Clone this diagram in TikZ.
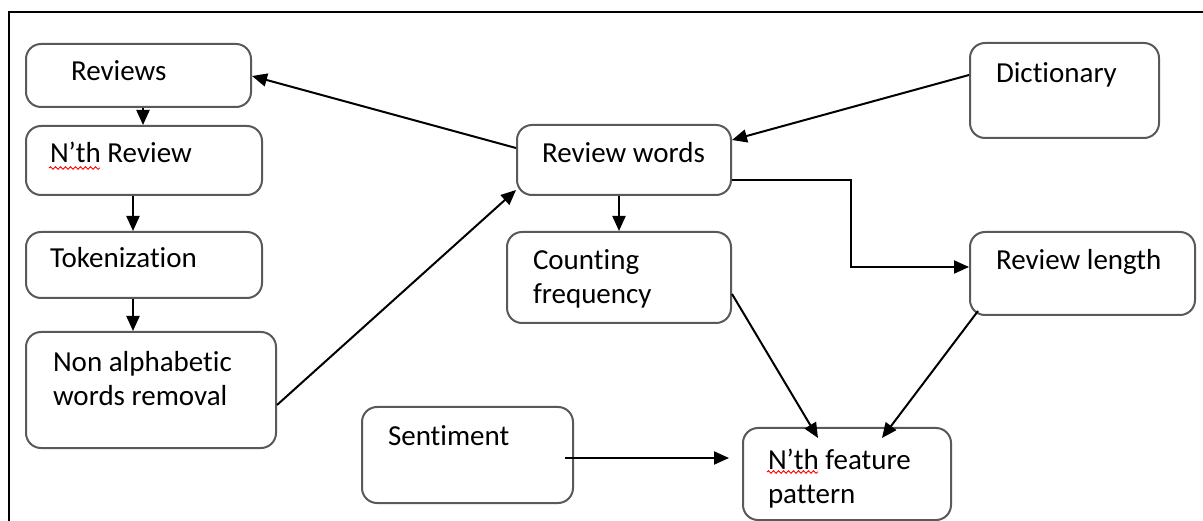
\documentclass[tikz,border=0pt]{standalone}
\usepackage{fontspec}
\setmainfont[Ligatures=NoCommon]{Carlito}
\usetikzlibrary{arrows.meta,calc,decorations.pathmorphing}

\tikzset{every picture/.style={line width=2pt}}
\tikzset{
  box/.style={draw=black!65, rounded corners=15pt, inner sep=0pt},
  txt/.style={anchor=base west, inner sep=0pt, align=left, font=\fontsize{29}{34}\selectfont},
  arr/.style={draw=black, -{Triangle[length=15pt,width=13pt]}},
  squiggle/.style={draw=red, line width=0.9pt, decorate, decoration={snake, amplitude=1.3pt, segment length=5pt}}
}

\begin{document}
\begin{tikzpicture}[x=1pt,y=1pt,yscale=-1,xscale=1]
		\useasboundingbox (0,0) rectangle (1203,521);
		%Frame
		\draw (9,521) -- (9,12) -- (1203,12);

		%Shape: Rounded boxes
		\node [box, minimum width=225, minimum height=63] (rev) at (138.5,75.5) {};
		\node [box, minimum width=236, minimum height=69] (nth) at (144,160.5) {};
		\node [box, minimum width=236, minimum height=66] (tok) at (144,265) {};
		\node [box, minimum width=250, minimum height=116] (non) at (151,390) {};
		\node [box, minimum width=214, minimum height=70] (rw) at (624,160) {};
		\node [box, minimum width=224, minimum height=91] (cf) at (619,277.5) {};
		\node [box, minimum width=189, minimum height=95] (dict) at (1064.5,90.5) {};
		\node [box, minimum width=225, minimum height=83] (rl) at (1082.5,273.5) {};
		\node [box, minimum width=211, minimum height=96] (sent) at (467.5,455) {};
		\node [box, minimum width=208, minimum height=92] (nfp) at (847,474) {};

		% Text Node
		\node [txt] (revtxt) at (70,81) {Reviews};
		\node [txt] (nthtxt) at (49,163) {N’th Review};
		\node [txt] (toktxt) at (49,268) {Tokenization};
		\node [txt] (nontxt) at (52,406) {Non alphabetic\\words removal};
		\node [txt] (rwtxt) at (541,163) {Review words};
		\node [txt] (cftxt) at (532,304) {Counting\\frequency};
		\node [txt] (dicttxt) at (995,83) {Dictionary};
		\node [txt] (rltxt) at (995,270) {Review length};
		\node [txt] (senttxt) at (387,446) {Sentiment};
		\node [txt] (nfptxt) at (767,503) {N’th feature\\pattern};

		%Spell check marks
		\draw [squiggle] (49,168) -- (100,168);
		\draw [squiggle] (767,472) -- (818,472);

		%Straight Lines
		\draw [arr] (rev.south -| 143,0) -- (nth.north -| 143,0);
		\draw [arr] (nth.south -| 133,0) -- (tok.north -| 133,0);
		\draw [arr] (tok.south -| 133,0) -- (non.north -| 133,0);
		\draw [arr] (non.east |- 0,405) -- (rw.west |- 0,190);
		\draw [arr] (rw.west |- 0,148) -- (rev.east |- 0,76);
		\draw [arr] (dict.west |- 0,75) -- (rw.east |- 0,140);
		\coordinate (bend) at (851,267);
		\draw [arr] (rw.east |- 0,180) -| (bend) -- (rl.west |- bend);
		\draw [arr] (rw.south -| 619,0) -- (cf.north -| 619,0);
		\draw [arr] (cf.east |- 0,294) -- ($(nfp.north)+(-29,11)$);
		\draw [arr] ($(rl.south west)+(9,-5)$) -- ($(nfp.north)+(35,11)$);
		\draw [arr] ($(sent.east)+(-9,3)$) -- ($(nfp.west)+(-13,-16)$);

	\end{tikzpicture}
\end{document}
